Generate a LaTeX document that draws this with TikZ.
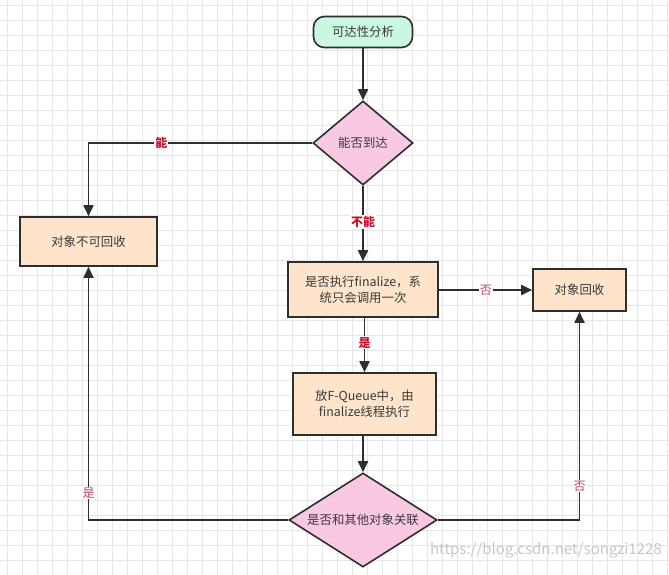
\documentclass[tikz,border=0pt]{standalone}
\usepackage{fontspec}
\setmainfont{Noto Sans CJK SC}
\usetikzlibrary{shapes.geometric,arrows.meta}
\definecolor{gridminor}{HTML}{E6E6EA}
\definecolor{edgecol}{HTML}{2E2E2E}
\definecolor{txtcol}{HTML}{3A3A3A}
\definecolor{startfill}{HTML}{C9F7DF}
\definecolor{decfill}{HTML}{F9C8E3}
\definecolor{boxfill}{HTML}{FDE4CB}
\definecolor{strongred}{HTML}{C8102E}
\definecolor{softred}{HTML}{C4435F}
\tikzset{
  base/.style={draw=edgecol, line width=1.6pt, text=txtcol, font=\fontsize{12.4}{16}\selectfont, align=center, inner sep=0pt},
  startbox/.style={base, fill=startfill, rounded corners=11pt, minimum width=99pt, minimum height=31pt},
  decision/.style={base, diamond, fill=decfill},
  procbox/.style={base, rectangle, fill=boxfill},
  conn/.style={draw=edgecol, line width=1.8pt, -{Triangle[length=11pt,width=10pt]}},
  lblstrong/.style={fill=white, text=strongred, font=\bfseries\fontsize{12}{14}\selectfont, inner sep=1pt},
  lblsoft/.style={fill=white, text=softred, font=\fontsize{12}{14}\selectfont, inner sep=1pt},
}
\begin{document}
\begin{tikzpicture}[x=1pt,y=-1pt]
\useasboundingbox (0,0) rectangle (669,575);
\fill[white] (0,0) rectangle (669,575);
\foreach \i in {0,...,44} {
  \draw[gridminor, line width=0.6pt] ({7+15*\i},0) -- ({7+15*\i},575);
}
\foreach \j in {0,...,38} {
  \draw[gridminor, line width=0.6pt] (0,{5+15*\j}) -- (669,{5+15*\j});
}
\node[startbox] (start) at (363,32) {可达性分析};
\node[decision, aspect=1.19, minimum width=100pt, minimum height=84pt] (reach) at (363,143) {能否到达};
\node[procbox, minimum width=137pt, minimum height=49pt] (keep) at (88.5,241.5) {对象不可回收};
\node[procbox, minimum width=150pt, minimum height=55pt] (fin) at (363,289.5) {是否执行finalize，系\\统只会调用一次};
\node[procbox, minimum width=93pt, minimum height=42pt] (recycle) at (579.5,290) {对象回收};
\node[procbox, minimum width=143pt, minimum height=62pt] (queue) at (364.5,404) {放F-Queue中，由\\finalize线程执行};
\node[decision, aspect=1.574, minimum width=148pt, minimum height=94pt] (link) at (363,520) {是否和其他对象关联};

\draw[conn] (start) -- (reach);
\draw[conn] (reach.west) -| node[lblstrong, pos=0.337] {能} (keep.north);
\draw[conn] (reach.south) -- node[lblstrong, pos=0.48] {不能} (fin.north);
\draw[conn] (fin.east |- recycle.west) -- node[lblsoft, pos=0.505] {否} (recycle.west);
\draw[conn] (fin.south -| queue.north) -- node[lblstrong, pos=0.46] {是} (queue.north);
\draw[conn] (queue.south -| link.north) -- (link.north);
\draw[conn] (link.west) -| node[lblsoft, pos=0.553] {是} (keep.south);
\draw[conn] (link.east) -| node[lblsoft, pos=0.581] {否} (recycle.south);

\node[text=black!22, font=\fontsize{15}{17}\selectfont, anchor=east, inner sep=0pt] (wm) at (662,550) {https://blog.csdn.net/songzi1228};
\end{tikzpicture}
\end{document}
